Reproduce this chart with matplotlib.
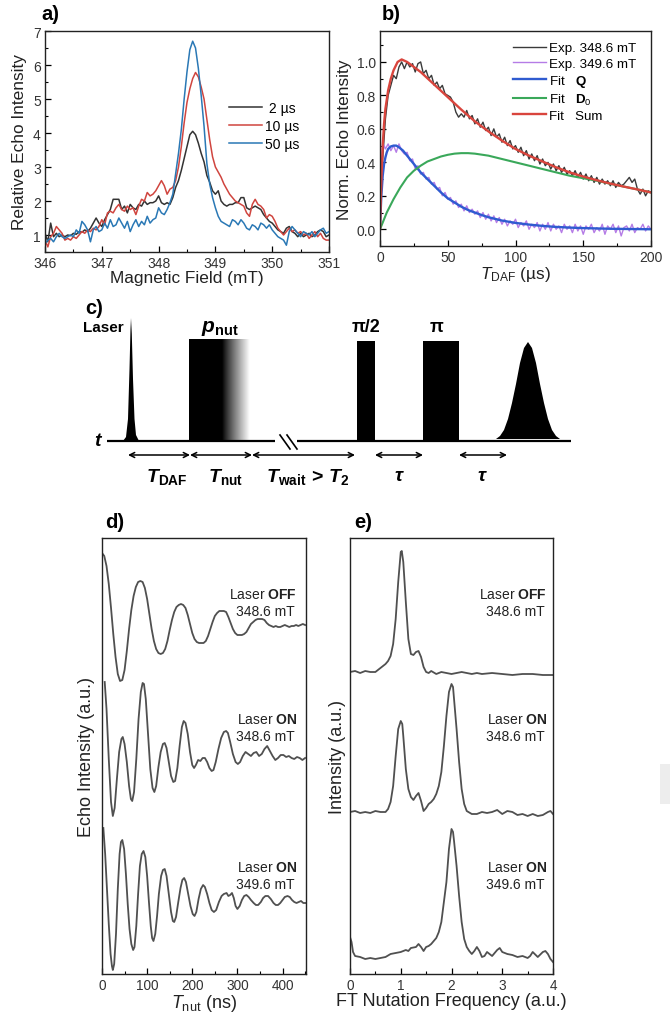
import numpy as np
import matplotlib
matplotlib.use("Agg")
import matplotlib.pyplot as plt
from matplotlib.patches import Rectangle, Polygon
from matplotlib.ticker import MultipleLocator, FormatStrFormatter

plt.rcParams['font.family'] = ['Liberation Sans', 'DejaVu Sans']
plt.rcParams['mathtext.fontset'] = 'custom'
plt.rcParams['mathtext.rm'] = 'Liberation Sans'
plt.rcParams['mathtext.it'] = 'Liberation Sans:italic'
plt.rcParams['mathtext.bf'] = 'Liberation Sans:bold'
plt.rcParams['mathtext.bfit'] = 'Liberation Sans:italic:bold'

# ---------------- panel a: field sweeps ----------------
field = np.round(np.arange(346.0, 351.001, 0.05), 2)
a_labels = [' 2 \u00b5s', '10 \u00b5s', '50 \u00b5s']
echo_2us = [1.05, 0.80, 1.35, 0.95, 1.05, 0.95, 1.00, 0.95, 1.00, 0.98,
            1.05, 1.02, 1.10, 1.08, 1.15, 1.10, 1.20, 1.35, 1.50, 1.35,
            1.25, 1.45, 1.60, 1.75, 2.05, 2.05, 2.05, 1.75, 1.85, 1.65,
            1.90, 1.80, 1.75, 1.90, 1.85, 2.00, 1.90, 1.95, 1.95, 2.00,
            2.15, 1.95, 1.90, 1.95, 1.90, 2.10, 2.40, 2.60, 2.90, 3.25,
            3.60, 3.95, 4.05, 3.95, 3.70, 3.40, 3.15, 2.75, 2.55, 2.30,
            2.20, 2.30, 2.00, 1.90, 1.85, 1.90, 1.90, 1.95, 1.95, 2.10,
            2.10, 1.80, 1.75, 1.80, 1.85, 1.80, 1.75, 1.60, 1.50, 1.40,
            1.35, 1.25, 1.15, 1.10, 1.05, 1.20, 1.25, 1.10, 1.05, 0.95,
            1.05, 0.95, 1.00, 1.05, 0.95, 1.00, 1.10, 1.15, 1.10, 0.95,
            1.00]
echo_10us = [0.85, 0.65, 0.95, 1.05, 1.25, 1.15, 1.05, 0.85, 0.90, 0.85,
             0.95, 0.90, 1.00, 1.10, 1.05, 1.15, 1.10, 1.20, 1.15, 1.25,
             1.45, 1.30, 1.65, 1.70, 1.65, 1.80, 1.90, 1.75, 1.70, 1.85,
             1.75, 1.80, 1.60, 1.85, 2.05, 2.00, 2.25, 2.15, 2.20, 2.30,
             2.45, 2.60, 2.45, 2.20, 2.35, 2.40, 2.60, 3.00, 3.60, 4.30,
             4.90, 5.30, 5.60, 5.78, 5.65, 5.35, 5.00, 4.40, 3.80, 3.30,
             3.00, 2.85, 2.70, 2.50, 2.35, 2.20, 2.10, 2.00, 1.95, 1.90,
             1.85, 1.65, 1.55, 1.90, 2.05, 1.90, 1.85, 1.75, 1.50, 1.60,
             1.55, 1.40, 1.20, 1.10, 1.00, 1.10, 1.20, 1.10, 1.15, 1.05,
             1.10, 1.00, 1.05, 0.90, 1.00, 1.10, 0.95, 1.05, 0.90, 0.85,
             0.85]
echo_50us = [0.75, 0.85, 0.90, 0.80, 0.95, 1.05, 0.95, 0.90, 0.95, 1.00,
             0.95, 1.15, 1.05, 1.40, 1.30, 1.15, 0.80, 1.15, 1.25, 1.10,
             1.15, 1.35, 1.20, 1.45, 1.25, 1.30, 1.50, 1.35, 1.20, 1.40,
             1.10, 1.30, 1.45, 1.25, 1.40, 1.30, 1.55, 1.35, 1.45, 1.50,
             1.80, 1.65, 1.60, 1.75, 1.95, 2.20, 2.80, 3.40, 4.10, 5.00,
             5.80, 6.45, 6.70, 6.50, 5.90, 5.10, 4.20, 3.10, 2.50, 2.10,
             1.80, 1.55, 1.40, 1.35, 1.30, 1.25, 1.45, 1.40, 1.30, 1.45,
             1.35, 1.20, 1.15, 1.30, 1.25, 1.15, 1.35, 1.30, 1.20, 1.30,
             1.15, 1.05, 0.95, 0.90, 0.85, 0.70, 1.10, 1.25, 1.15, 1.05,
             0.95, 1.10, 1.05, 1.00, 1.10, 0.95, 1.05, 1.15, 1.20, 1.05,
             1.10]

# ---------------- panel b: DAF traces ----------------
t_daf = np.arange(0, 201, 2)
exp_3486 = [0.05, 0.42, 0.66, 0.80, 0.86, 0.92, 0.90, 0.97, 1.00, 0.96,
            1.00, 0.97, 0.99, 0.94, 0.99, 1.00, 0.93, 0.95, 0.90, 0.92,
            0.86, 0.88, 0.84, 0.86, 0.81, 0.80, 0.79, 0.76, 0.70, 0.67,
            0.69, 0.67, 0.71, 0.66, 0.68, 0.63, 0.66, 0.61, 0.64, 0.59,
            0.61, 0.56, 0.60, 0.55, 0.57, 0.52, 0.55, 0.50, 0.53, 0.48,
            0.50, 0.46, 0.49, 0.44, 0.47, 0.42, 0.45, 0.41, 0.44, 0.39,
            0.42, 0.38, 0.40, 0.36, 0.39, 0.35, 0.38, 0.34, 0.37, 0.33,
            0.35, 0.32, 0.35, 0.31, 0.34, 0.30, 0.33, 0.29, 0.32, 0.28,
            0.31, 0.27, 0.30, 0.27, 0.29, 0.26, 0.29, 0.25, 0.28, 0.26,
            0.27, 0.29, 0.31, 0.28, 0.30, 0.24, 0.21, 0.24, 0.20, 0.23,
            0.22]
exp_3496 = [0.05, 0.52, 0.48, 0.51, 0.47, 0.50, 0.46, 0.51, 0.47, 0.45,
            0.46, 0.41, 0.42, 0.36, 0.38, 0.33, 0.34, 0.30, 0.31, 0.27,
            0.28, 0.24, 0.25, 0.20, 0.22, 0.18, 0.19, 0.15, 0.17, 0.13,
            0.15, 0.11, 0.14, 0.10, 0.12, 0.09, 0.11, 0.07, 0.10, 0.06,
            0.09, 0.05, 0.08, 0.04, 0.07, 0.03, 0.06, 0.02, 0.05, 0.03,
            0.06, 0.01, 0.04, 0.02, 0.05, 0.00, 0.03, 0.01, 0.04, -0.01,
            0.03, 0.00, 0.04, -0.01, 0.03, 0.00, 0.02, -0.02, 0.03, 0.00,
            0.02, -0.02, 0.03, -0.01, 0.02, -0.03, 0.02, 0.00, 0.03, -0.02,
            0.01, -0.01, 0.03, -0.03, 0.02, 0.00, 0.03, -0.02, 0.02, -0.04,
            0.01, 0.02, -0.01, 0.03, -0.02, 0.01, 0.00, 0.03, -0.01, 0.02,
            0.00]
t_fit_q = [0, 1, 2, 3, 4, 5, 6, 8, 10, 12, 14, 17, 20, 25, 30, 35, 40, 45, 50,
           55, 60, 65, 70, 75, 80, 90, 100, 110, 120, 130, 140, 150, 160, 170,
           180, 190, 200]
fit_q = [0.02, 0.20, 0.32, 0.39, 0.43, 0.46, 0.48, 0.495, 0.50, 0.50, 0.49,
         0.47, 0.44, 0.39, 0.34, 0.30, 0.26, 0.22, 0.185, 0.16, 0.135, 0.115,
         0.10, 0.085, 0.072, 0.052, 0.038, 0.028, 0.02, 0.014, 0.01, 0.007,
         0.005, 0.003, 0.002, 0.001, 0.0]
t_fit_d = [0, 2, 5, 10, 15, 20, 25, 30, 35, 40, 45, 50, 55, 60, 65, 70, 80, 90,
           100, 110, 120, 130, 140, 150, 160, 170, 180, 190, 200]
fit_d0 = [0.0, 0.04, 0.10, 0.18, 0.25, 0.31, 0.35, 0.38, 0.405, 0.42, 0.435,
          0.445, 0.452, 0.455, 0.455, 0.452, 0.44, 0.42, 0.40, 0.38, 0.36, 0.34,
          0.32, 0.305, 0.29, 0.272, 0.255, 0.238, 0.22]
t_fit_s = [0, 1, 2, 3, 4, 6, 8, 10, 13, 16, 20, 25, 30, 40, 50, 60, 70, 80, 90,
           100, 110, 120, 130, 140, 150, 160, 170, 180, 190, 200]
fit_sum = [0.0, 0.30, 0.50, 0.63, 0.72, 0.83, 0.90, 0.95, 1.00, 1.015, 1.00,
           0.97, 0.94, 0.865, 0.79, 0.715, 0.645, 0.585, 0.53, 0.48, 0.44,
           0.405, 0.37, 0.34, 0.315, 0.293, 0.273, 0.255, 0.238, 0.22]

# ---------------- panel c: pulse sequence (schematic units) ----------------
base_y = 442
base_segments = [(107, 275), (297, 571)]
laser_dx = [-8, -5, -3, -1.5, -0.5, 0, 0.8, 2, 3.5, 5, 8]
laser_h = [0, 4, 22, 72, 112, 123, 107, 62, 22, 6, 0]
laser_x0 = 131
pnut_solid = (189, 222)
pnut_fade = (222, 250)
pnut_top = 340
mw_pulses = [(357, 375), (423, 459)]
mw_top = 342
mw_labels = ['\u03c0/2', '\u03c0']
mw_label_x = [366, 437]
echo_x0 = 528
echo_dx = [-32, -28, -24, -20, -16, -12, -8, -4, 0, 4, 8, 12, 16, 20, 24, 28, 32]
echo_h = [2, 5, 11, 22, 38, 57, 78, 93, 99, 93, 78, 57, 38, 22, 11, 5, 2]
arrow_spans = [(128, 190), (190, 252), (252, 355), (375, 423), (459, 507)]
arrow_labels = [r'$\mathbfit{T}_{\mathbf{DAF}}$', r'$\mathbfit{T}_{\mathbf{nut}}$',
                r'$\mathbfit{T}_{\mathbf{wait}}\,\mathbf{>}\,\mathbfit{T}_{\mathbf{2}}$',
                r'$\mathbfit{\tau}$', r'$\mathbfit{\tau}$']
arrow_label_x = [167, 226, 308, 399, 482]

# ---------------- panel d: nutation traces ----------------
t_off = np.arange(0, 451, 5)
nut_off = [421, 418, 408, 390, 366, 340, 317, 300, 293, 294,
           304, 323, 345, 364, 378, 387, 392, 393, 392, 386,
           375, 360, 345, 333, 325, 321, 320, 321, 325, 333,
           344, 354, 362, 367, 369, 370, 369, 366, 359, 350,
           341, 335, 332, 331, 331, 331, 333, 338, 345, 352,
           358, 361, 363, 363, 363, 362, 357, 351, 345, 341,
           339, 339, 339, 340, 342, 346, 350, 352, 354, 355,
           355, 355, 354, 351, 349, 348, 347, 348, 347, 347,
           348, 349, 348, 347, 348, 348, 349, 348, 349, 350,
           349]
t_on1 = [6, 10, 15, 20, 24, 28, 33, 38, 43, 46,
         50, 55, 60, 64, 67, 71, 76, 81, 86, 90,
         93, 97, 102, 107, 112, 116, 120, 125, 130, 135,
         139, 143, 148, 153, 158, 162, 167, 172, 177, 181,
         185, 190, 195, 200, 204, 208, 213, 218, 223, 228,
         233, 238, 243, 247, 252, 258, 264, 270, 275, 279,
         284, 290, 296, 301, 306, 312, 318, 324, 330, 336,
         342, 348, 354, 360, 366, 372, 378, 384, 390, 396,
         402, 408, 414, 420, 426, 432, 438, 444, 450]
nut_on1 = [292, 265, 215, 172, 158, 166, 195, 222, 235, 237,
           230, 212, 188, 175, 173, 182, 215, 255, 282, 291,
           290, 275, 240, 205, 186, 182, 188, 207, 222, 230,
           231, 226, 212, 198, 192, 193, 206, 228, 247, 253,
           251, 240, 222, 209, 206, 209, 214, 213, 216, 216,
           212, 206, 203, 204, 212, 225, 236, 242, 243, 241,
           232, 220, 212, 210, 212, 218, 222, 220, 218, 221,
           222, 218, 220, 225, 228, 223, 218, 214, 216, 219,
           219, 217, 218, 216, 215, 217, 216, 214, 216]
t_on2 = [3, 7, 11, 15, 19, 22, 24, 27, 31, 35,
         39, 42, 45, 49, 53, 57, 61, 65, 69, 72,
         76, 80, 84, 88, 92, 96, 100, 104, 108, 111,
         114, 118, 122, 126, 131, 135, 139, 143, 148, 153,
         157, 160, 164, 169, 174, 178, 182, 186, 191, 196,
         201, 205, 209, 214, 219, 224, 228, 233, 238, 243,
         248, 253, 259, 265, 270, 276, 280, 284, 288, 292,
         296, 300, 305, 310, 315, 320, 325, 330, 336, 341,
         346, 352, 357, 362, 368, 374, 380, 385, 390, 395,
         400, 405, 411, 416, 421, 426, 431, 436, 441, 446,
         450]
nut_on2 = [146, 120, 85, 50, 20, 8, 4, 10, 40, 85,
           120, 132, 134, 125, 100, 70, 45, 30, 24, 27,
           48, 80, 108, 120, 123, 117, 98, 72, 48, 36,
           33, 40, 58, 80, 98, 104, 105, 98, 80, 62,
           53, 52, 57, 72, 86, 94, 96, 92, 80, 68,
           60, 58, 62, 75, 85, 89, 87, 80, 71, 64,
           62, 64, 72, 78, 80, 81, 78, 79, 81, 76,
           68, 65, 68, 74, 78, 79, 77, 74, 71, 69,
           69, 72, 76, 78, 78, 75, 71, 69, 69, 71,
           74, 77, 78, 77, 74, 72, 71, 72, 73, 71,
           71]

# ---------------- panel e: FT spectra ----------------
f_off = [0, 0.1, 0.2, 0.3, 0.4, 0.5, 0.6, 0.65, 0.7, 0.75,
         0.8, 0.85, 0.9, 0.95, 1.0, 1.02, 1.05, 1.1, 1.15, 1.2,
         1.25, 1.3, 1.35, 1.4, 1.45, 1.5, 1.55, 1.6, 1.7, 1.8,
         1.9, 2.0, 2.2, 2.4, 2.5, 2.6, 2.8, 3.0, 3.2, 3.4,
         3.6, 3.8, 4.0]
ft_off = [302, 303, 301, 303, 302, 302, 306, 308, 310, 313,
          318, 330, 355, 392, 422, 423, 412, 372, 335, 320,
          319, 322, 323, 317, 307, 302, 301, 303, 300, 302,
          301, 300, 302, 300, 301, 300, 301, 300, 299, 300,
          300, 299, 299]
f_on1 = [0, 0.1, 0.2, 0.3, 0.4, 0.5, 0.6, 0.7, 0.75, 0.8,
         0.85, 0.9, 0.95, 1.0, 1.03, 1.05, 1.1, 1.15, 1.2, 1.25,
         1.3, 1.35, 1.4, 1.45, 1.5, 1.55, 1.6, 1.65, 1.7, 1.75,
         1.8, 1.85, 1.9, 1.95, 2.0, 2.03, 2.05, 2.1, 2.15, 2.2,
         2.25, 2.3, 2.4, 2.5, 2.6, 2.7, 2.8, 2.9, 3.0, 3.1,
         3.2, 3.3, 3.4, 3.5, 3.6, 3.7, 3.8, 3.9, 3.95, 4.0]
ft_on1 = [162, 163, 161, 162, 161, 163, 162, 162, 165, 172,
          188, 218, 245, 253, 250, 238, 205, 185, 177, 174,
          178, 181, 173, 163, 166, 170, 172, 175, 180, 188,
          202, 228, 258, 282, 290, 287, 275, 245, 212, 185,
          170, 163, 160, 160, 162, 161, 162, 164, 160, 163,
          162, 159, 160, 158, 160, 158, 159, 162, 163, 160]
f_on2 = [0, 0.03, 0.06, 0.1, 0.2, 0.3, 0.4, 0.5, 0.6, 0.7,
         0.8, 0.9, 1.0, 1.1, 1.15, 1.2, 1.3, 1.35, 1.4, 1.45,
         1.5, 1.55, 1.6, 1.7, 1.75, 1.8, 1.85, 1.9, 1.95, 2.0,
         2.03, 2.05, 2.1, 2.15, 2.2, 2.25, 2.3, 2.35, 2.4, 2.45,
         2.5, 2.55, 2.6, 2.65, 2.7, 2.8, 2.9, 2.95, 3.0, 3.1,
         3.2, 3.3, 3.4, 3.5, 3.55, 3.6, 3.7, 3.8, 3.85, 3.9,
         3.95, 4.0]
ft_on2 = [37, 32, 22, 18, 17, 15, 16, 15, 16, 17,
          20, 21, 22, 24, 23, 26, 27, 30, 27, 23,
          27, 28, 30, 36, 42, 52, 72, 92, 125, 145,
          142, 133, 108, 78, 52, 35, 27, 23, 20, 23,
          27, 23, 17, 18, 22, 18, 24, 26, 22, 20,
          19, 17, 18, 16, 18, 22, 17, 22, 23, 20,
          15, 12]
trace_states = ['OFF', 'ON', 'ON']
trace_fields = ['348.6 mT', '348.6 mT', '349.6 mT']

W, H = 670, 1020
fig = plt.figure(figsize=(W / 100, H / 100), dpi=100)


def box(l, t, r, b):
    return [l / W, 1 - b / H, (r - l) / W, (b - t) / H]


def fig_text(x, y, s, **kw):
    kw.setdefault('va', 'center')
    fig.text(x / W, 1 - y / H, s, **kw)


def style_ticks(ax, size):
    ax.tick_params(which='both', direction='in', top=False, right=False,
                   labelsize=size, labelcolor='#333333', pad=3)
    ax.tick_params(which='major', length=4, width=0.9)
    ax.tick_params(which='minor', length=2.2, width=0.8)
    for s in ax.spines.values():
        s.set_linewidth(1.0)
        s.set_color('#222222')


# ---- a ----
ax_a = fig.add_axes(box(45, 32, 329, 253))
for y, c, lab in zip([echo_2us, echo_10us, echo_50us],
                     ['#333333', '#d0453f', '#2a78b5'], a_labels):
    ax_a.plot(field, y, color=c, lw=1.1, label=lab)
ax_a.set_xlim(346, 351)
ax_a.set_ylim(0.5, 7)
ax_a.xaxis.set_major_locator(MultipleLocator(1))
ax_a.xaxis.set_minor_locator(MultipleLocator(0.5))
ax_a.yaxis.set_major_locator(MultipleLocator(1))
ax_a.yaxis.set_minor_locator(MultipleLocator(0.5))
style_ticks(ax_a, 10)
ax_a.set_xlabel('Magnetic Field (mT)', fontsize=12.4, labelpad=0, color='#222222')
ax_a.set_ylabel('Relative Echo Intensity', fontsize=12.4, labelpad=4, color='#222222')
ax_a.legend(loc='upper left', bbox_to_anchor=((229 - 45) / 284, (253 - 102) / 221),
            frameon=False, fontsize=10, handlelength=2.4, handletextpad=0.2,
            labelspacing=0.28, borderpad=0, borderaxespad=0)

# ---- b ----
ax_b = fig.add_axes(box(380, 32, 651, 247))
ax_b.plot(t_daf, exp_3486, color='#3a3a3a', lw=1.0, label='Exp. 348.6 mT')
ax_b.plot(t_daf, exp_3496, color='#b57ce6', lw=1.0, label='Exp. 349.6 mT')
ax_b.plot(t_fit_q, fit_q, color='#2f5bd0', lw=1.7, label=r'Fit   $\mathbf{Q}$')
ax_b.plot(t_fit_d, fit_d0, color='#3aa85a', lw=1.5, label=r'Fit   $\mathbf{D}_{0}$')
ax_b.plot(t_fit_s, fit_sum, color='#d9453d', lw=1.7, label='Fit   Sum')
ax_b.set_xlim(0, 200)
ax_b.set_ylim(-0.1, 1.185)
ax_b.xaxis.set_major_locator(MultipleLocator(50))
ax_b.xaxis.set_minor_locator(MultipleLocator(25))
ax_b.yaxis.set_major_locator(MultipleLocator(0.2))
ax_b.yaxis.set_minor_locator(MultipleLocator(0.1))
ax_b.yaxis.set_major_formatter(FormatStrFormatter('%.1f'))
style_ticks(ax_b, 10)
ax_b.set_xlabel('$\\mathit{T}_{\\mathrm{DAF}}$ (\u00b5s)', fontsize=12.4, labelpad=0, color='#222222')
ax_b.set_ylabel('Norm. Echo Intensity', fontsize=12.4, labelpad=3, color='#222222')
ax_b.legend(loc='upper left', bbox_to_anchor=((513 - 380) / 271, (247 - 43) / 215),
            frameon=False, fontsize=9.6, handlelength=2.5, handletextpad=0.2,
            labelspacing=0.22, borderpad=0, borderaxespad=0)

# ---- c ----
ax_c = fig.add_axes([0, 1 - 500 / H, 1, 210 / H])
ax_c.set_xlim(0, W)
ax_c.set_ylim(500, 290)
ax_c.axis('off')
for x0, x1 in base_segments:
    ax_c.plot([x0, x1], [base_y, base_y], color='k', lw=1.6, solid_capstyle='butt')
ax_c.plot([280, 290], [436, 450], color='k', lw=1.2)
ax_c.plot([287, 297], [436, 450], color='k', lw=1.2)
ax_c.add_patch(Polygon(list(zip(laser_x0 + np.array(laser_dx), base_y - np.array(laser_h))),
                       closed=True, color='k', lw=0))
ax_c.add_patch(Rectangle((pnut_solid[0], pnut_top), pnut_solid[1] - pnut_solid[0],
                         base_y - pnut_top, color='k', lw=0))
fade = np.linspace(0, 1, 64)[None, :] ** 0.9
ax_c.imshow(fade, cmap='gray', vmin=0, vmax=1, aspect='auto',
            extent=(pnut_fade[0], pnut_fade[1], base_y, pnut_top), zorder=1)
for (x0, x1) in mw_pulses:
    ax_c.add_patch(Rectangle((x0, mw_top), x1 - x0, base_y - mw_top, color='k', lw=0))
ax_c.add_patch(Polygon(list(zip(echo_x0 + np.array(echo_dx), base_y - np.array(echo_h))),
                       closed=True, color='k', lw=0))
for (x0, x1) in arrow_spans:
    ax_c.annotate('', xy=(x1, 456), xytext=(x0, 456),
                  arrowprops=dict(arrowstyle='<->', lw=1.1, color='k',
                                  shrinkA=0, shrinkB=0, mutation_scale=9))
for x, s in zip(arrow_label_x, arrow_labels):
    ax_c.text(x, 477, s, fontsize=14, ha='center', va='center')
for x, s in zip(mw_label_x, mw_labels):
    ax_c.text(x, 328, s, fontsize=13, fontweight='bold', ha='center', va='center')
ax_c.text(220, 329, r'$\mathbfit{p}_{\mathbf{nut}}$', fontsize=15, ha='center', va='center')
ax_c.text(124, 328, 'Laser', fontsize=11, fontweight='bold', ha='right', va='center')
ax_c.text(97, 442, 't', fontsize=14, fontweight='bold', fontstyle='italic',
          ha='center', va='center')

# ---- d ----
ax_d = fig.add_axes(box(102, 539, 306, 975))
for t, y in zip([t_off, t_on1, t_on2], [nut_off, nut_on1, nut_on2]):
    ax_d.plot(t, y, color='#505050', lw=1.3)
ax_d.set_xlim(0, 452)
ax_d.set_ylim(0, 436)
ax_d.set_yticks([])
ax_d.xaxis.set_major_locator(MultipleLocator(100))
ax_d.xaxis.set_minor_locator(MultipleLocator(50))
style_ticks(ax_d, 9.8)
ax_d.set_xlabel('$\\mathit{T}_{\\mathrm{nut}}$ (ns)', fontsize=13, labelpad=0, color='#222222')
ax_d.set_ylabel('Echo Intensity (a.u.)', fontsize=13, labelpad=5, color='#222222')

# ---- e ----
ax_e = fig.add_axes(box(350, 539, 553, 975))
for f, y in zip([f_off, f_on1, f_on2], [ft_off, ft_on1, ft_on2]):
    ax_e.plot(f, y, color='#505050', lw=1.3)
ax_e.set_xlim(0, 4)
ax_e.set_ylim(0, 436)
ax_e.set_yticks([])
ax_e.xaxis.set_major_locator(MultipleLocator(1))
ax_e.xaxis.set_minor_locator(MultipleLocator(0.5))
style_ticks(ax_e, 9.8)
ax_e.set_xlabel('FT Nutation Frequency (a.u.)', fontsize=13, labelpad=0, color='#222222')
ax_e.set_ylabel('Intensity (a.u.)', fontsize=13, labelpad=3, color='#222222')

# trace annotations in d and e
for xr in [297, 547]:
    for yy, st, fl in zip([595, 720, 868], trace_states, trace_fields):
        fig_text(xr, yy, 'Laser $\\mathbf{%s}$' % st, fontsize=10, ha='right', color='#222222')
        fig_text(xr - 2, yy + 17, fl, fontsize=10, ha='right', color='#222222')

# panel letters
for x, y, s in [(50, 14, 'a)'), (391, 14, 'b)'), (94, 308, 'c)'), (115, 523, 'd)'), (363, 523, 'e)')]:
    fig_text(x, y, s, fontsize=14.5, fontweight='bold', ha='center')

fig.patches.append(Rectangle((660 / W, 1 - 805 / H), 10 / W, 40 / H,
                             transform=fig.transFigure, color='#ededed', lw=0))

fig.savefig('out.png', dpi=100)
